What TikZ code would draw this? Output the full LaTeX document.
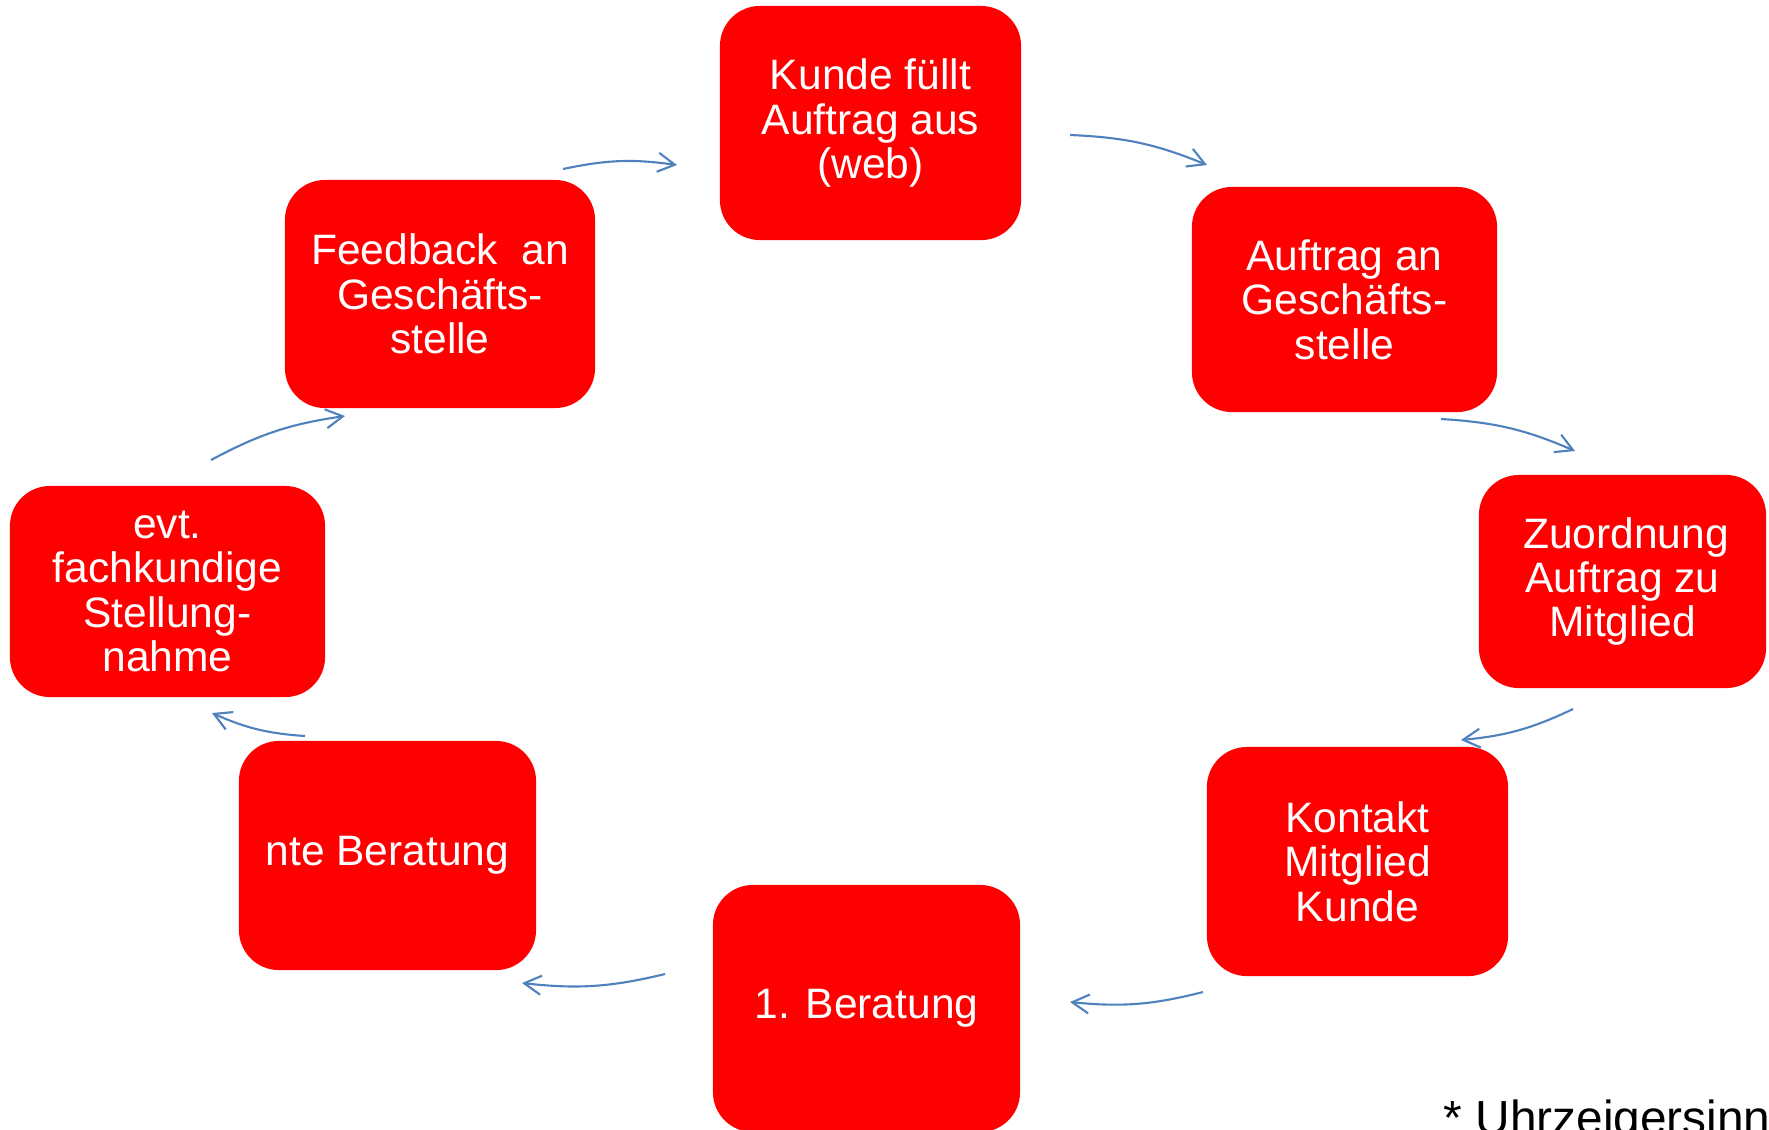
\documentclass[tikz,border=0pt]{standalone}
\usepackage{fontspec}
\setmainfont{Liberation Sans}
\usetikzlibrary{arrows.meta}

\definecolor{boxred}{HTML}{FF0000}
\definecolor{flowblue}{HTML}{4F81BD}

\begin{document}
\begin{tikzpicture}[x=0.01cm, y=0.01cm, >={Straight Barb[length=1.7mm,width=1.9mm]},
  every node/.style={font=\fontsize{12.1}{12.6}\selectfont},
  stepbox/.style={rectangle, rounded corners=4mm, fill=boxred, text=white, align=center, inner sep=0pt},
  flow/.style={->, draw=flowblue, line width=0.6pt}]
\useasboundingbox (0,0) rectangle (1769,-1129);
\clip (0,0) rectangle (1769,-1129);
% the steps, clockwise
\node[stepbox, minimum width=3.01cm, minimum height=2.34cm] (kunde) at (870.5,-123) {Kunde füllt\\Auftrag aus\\(web)};
\node[stepbox, minimum width=3.05cm, minimum height=2.25cm] (auftrag) at (1344.5,-299.5) {Auftrag an\\Geschäfts-\\stelle};
\node[stepbox, minimum width=2.87cm, minimum height=2.13cm] (zuordnung) at (1622.5,-581.5) {\,Zuordnung\\Auftrag zu\\Mitglied};
\node[stepbox, minimum width=3.01cm, minimum height=2.29cm] (kontakt) at (1357.5,-861.5) {Kontakt\\Mitglied\\Kunde};
\node[stepbox, minimum width=3.07cm, minimum height=2.47cm] (erste) at (866.5,-1008.5) {1. Beratung};
\node[stepbox, minimum width=2.97cm, minimum height=2.29cm] (weitere) at (387.5,-855.5) {nte Beratung};
\node[stepbox, minimum width=3.15cm, minimum height=2.11cm] (stellung) at (167.5,-591.5) {evt.\\fachkundige\\Stellung-\\nahme};
\node[stepbox, minimum width=3.10cm, minimum height=2.28cm] (feedback) at (440,-294) {Feedback\ \ an\\Geschäfts-\\stelle};
% arrow ends
\coordinate (a1) at (563,-169);  \coordinate (a2) at (677,-165);
\coordinate (b1) at (1070,-135); \coordinate (b2) at (1207,-165);
\coordinate (c1) at (1441,-419); \coordinate (c2) at (1575,-451);
\coordinate (d1) at (1573,-709); \coordinate (d2) at (1461,-740);
\coordinate (e1) at (1203,-992); \coordinate (e2) at (1070,-1002);
\coordinate (f1) at (665,-974);  \coordinate (f2) at (522,-983);
\coordinate (g1) at (305,-736);  \coordinate (g2) at (212,-713);
\coordinate (h1) at (211,-460);  \coordinate (h2) at (345,-416);
\foreach \s in {a,b,c,d,e,f,g,h}
  \draw[flow] (\s1) to[bend left=10] (\s2);
\node[anchor=base west, inner sep=0pt, font=\fontsize{13.6}{16}\selectfont] (sinn) at (1443,-1134) {* Uhrzeigersinn};
\end{tikzpicture}
\end{document}
